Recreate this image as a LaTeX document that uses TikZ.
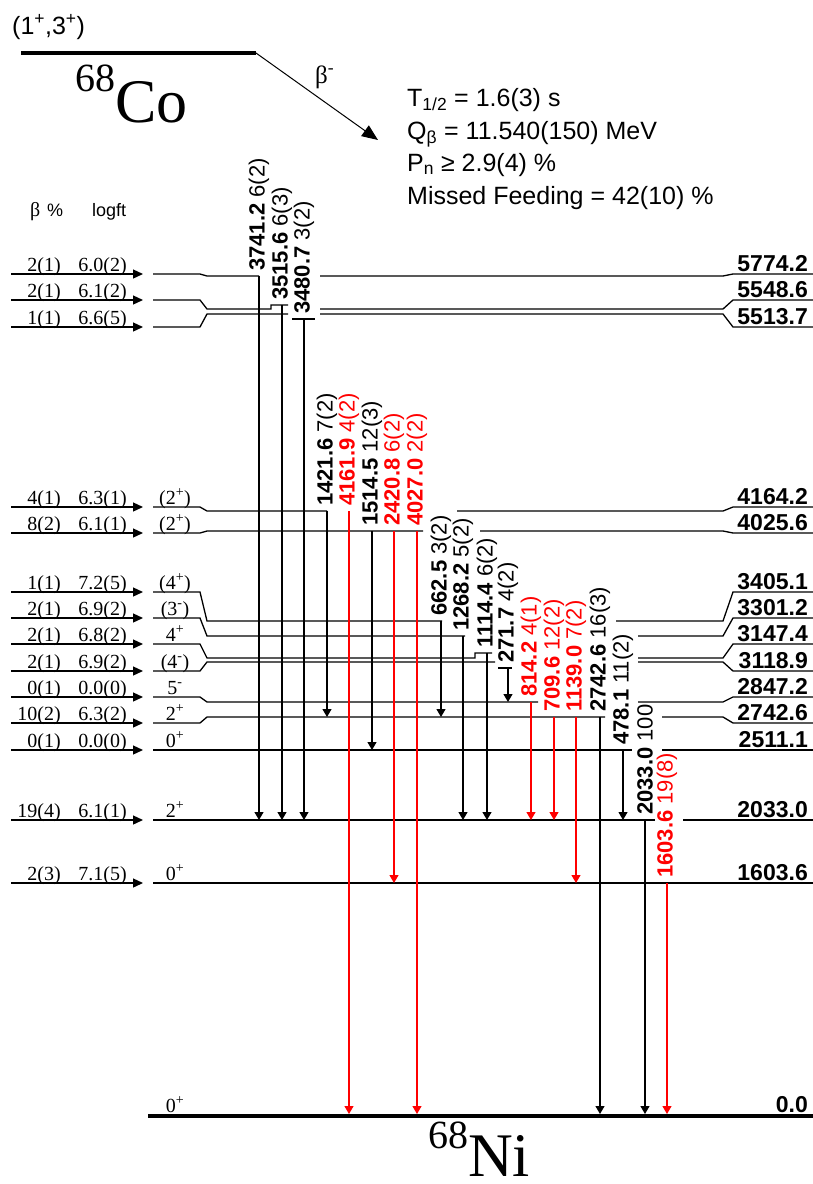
\documentclass[tikz,border=0pt]{standalone}
\usepackage{fontspec}
\setmainfont{Liberation Serif}
\setsansfont{Liberation Sans}
\usetikzlibrary{arrows.meta}
\tikzset{
 lev/.style={line width=1.3pt, line join=miter},
 gline/.style={line width=1.1pt, -{Triangle[length=8pt,width=9pt]}},
 glab/.style={rotate=90, anchor=west, inner sep=0pt, font=\sffamily\fontsize{22}{22}\selectfont},
 feedarr/.style={line width=1.3pt, -{Triangle[length=10pt,width=9pt]}},
 bpct/.style={anchor=base east, inner sep=0pt, font=\rmfamily\fontsize{20}{20}\selectfont},
 spinst/.style={anchor=base, inner sep=0pt, font=\rmfamily\fontsize{20}{20}\selectfont},
 elabst/.style={anchor=base east, inner sep=0pt, font=\sffamily\bfseries\fontsize{23}{23}\selectfont},
 info/.style={anchor=base west, inner sep=0pt, font=\sffamily\fontsize{25}{25}\selectfont},
}
\newcommand\gtrans[7]{% name, x, y start, y end, colour, energy, intensity
  \coordinate (#1s) at (#2,#3);
  \coordinate (#1e) at (#2,#4);
  \draw[gline,draw=#5] (#1s) -- (#1e);
  \node[glab,text=#5] (#1l) at ([yshift=5pt]#1s) {\textbf{#6} #7};}
\newcommand\feeding[4]{% name, y, beta pct, logft
  \coordinate (#1f0) at (11,#2);
  \coordinate (#1f1) at (143,#2);
  \draw[feedarr] (#1f0) -- (#1f1);
  \node[bpct] (#1b) at (61,{#2-3}) {#3};
  \node[bpct] (#1g) at (127,{#2-3}) {#4};}
\newcommand\spinlab[3]{\node[spinst] (#1s) at (175,{#2-3}) {#3};}
\newcommand\elabel[3]{\node[elabst] (#1E) at (808,{#2-3}) {#3};}
\begin{document}
\begin{tikzpicture}[x=1pt,y=-1pt]
\useasboundingbox (0,0) rectangle (813,1184);

% parent
\node[anchor=base west, inner sep=0pt, font=\sffamily\fontsize{25}{25}\selectfont] (cospin) at (12,34) {(1\textsuperscript{+},3\textsuperscript{+})};
\coordinate (co0) at (21,53);
\coordinate (co1) at (256,53);
\draw[line width=4pt] (co0) -- (co1);
\node[anchor=base west, inner sep=0pt] (coname) at (75,122) {\raisebox{31pt}{\fontsize{40}{40}\selectfont 68}\fontsize{62}{62}\selectfont Co};
\coordinate (bend) at (378,140);
\draw[line width=1pt, -{Triangle[length=16pt,width=13pt]}] (co1) -- (bend);
\node[anchor=base west, inner sep=0pt, font=\rmfamily\fontsize{25}{25}\selectfont] (betalab) at (315,83) {β\textsuperscript{-}};

\node[info] (t12) at (407,106) {T\textsubscript{1/2} = 1.6(3) s};
\node[info] (qb) at (407,139) {Q\textsubscript{β} = 11.540(150) MeV};
\node[info] (pn) at (407,171) {P\textsubscript{n} ≥ 2.9(4) \%};
\node[info] (mf) at (407,204) {Missed Feeding = 42(10) \%};

% header
\node[anchor=base west, inner sep=0pt, font=\rmfamily\fontsize{20}{20}\selectfont] (hb) at (30,216) {β};
\node[anchor=base west, inner sep=0pt, font=\sffamily\fontsize{18}{18}\selectfont] (hp) at (47,216) {\%};
\node[anchor=base west, inner sep=0pt, font=\sffamily\fontsize{18}{18}\selectfont] (hl) at (92,216) {logft};

% levels
\draw[lev] (153,274) -- (200,274) -- (207,276) -- (259,276) (320,276) -- (723,276) -- (733,274) -- (813,274);
\draw[lev] (153,300) -- (200,300) -- (207,309) -- (271,309) -- (271,305) -- (288,305) (320,309) -- (723,309) -- (733,300) -- (813,300);
\draw[lev] (153,327) -- (200,327) -- (207,314) -- (288,314) (320,314) -- (723,314) -- (733,327) -- (813,327);
\draw[lev] (292,319) -- (315,319);
\draw[lev] (153,507) -- (200,507) -- (207,511) -- (327,511) (457,511) -- (723,511) -- (733,507) -- (813,507);
\draw[lev] (153,533) -- (200,533) -- (207,531) -- (423,531) (480,531) -- (723,531) -- (733,533) -- (813,533);
\draw[lev] (153,592) -- (200,592) -- (207,621) -- (442,621) (616,621) -- (723,621) -- (733,592) -- (813,592);
\draw[lev] (153,618) -- (200,618) -- (207,636) -- (465,636) (638,636) -- (723,636) -- (733,618) -- (813,618);
\draw[lev] (153,644) -- (200,644) -- (207,658) -- (475,658) -- (475,653) -- (492,653) (638,658) -- (723,658) -- (733,644) -- (813,644);
\draw[lev] (153,671) -- (200,671) -- (207,662) -- (495,662) (638,662) -- (723,662) -- (733,671) -- (813,671);
\draw[lev] (498,668) -- (512,668);
\draw[lev] (153,697) -- (200,697) -- (207,702) -- (538,702) (638,702) -- (723,702) -- (733,697) -- (813,697);
\draw[lev] (153,723) -- (200,723) -- (207,717) -- (605,717) (662,717) -- (723,717) -- (733,723) -- (813,723);
\draw[lev] (153,750) -- (632,750) (662,750) -- (813,750);
\draw[lev] (153,820) -- (655,820) (683,820) -- (813,820);
\draw[lev] (153,883) -- (813,883);
\draw[line width=4pt] (148,1116) -- (813,1116);

% feeding
\feeding{a}{274}{2(1)}{6.0(2)}
\feeding{b}{300}{2(1)}{6.1(2)}
\feeding{c}{327}{1(1)}{6.6(5)}
\feeding{d}{507}{4(1)}{6.3(1)}
\feeding{e}{533}{8(2)}{6.1(1)}
\feeding{f}{592}{1(1)}{7.2(5)}
\feeding{g}{618}{2(1)}{6.9(2)}
\feeding{h}{644}{2(1)}{6.8(2)}
\feeding{i}{671}{2(1)}{6.9(2)}
\feeding{j}{697}{0(1)}{0.0(0)}
\feeding{k}{723}{10(2)}{6.3(2)}
\feeding{l}{750}{0(1)}{0.0(0)}
\feeding{m}{820}{19(4)}{6.1(1)}
\feeding{n}{883}{2(3)}{7.1(5)}

% spins
\spinlab{d}{507}{(2\textsuperscript{+})}
\spinlab{e}{533}{(2\textsuperscript{+})}
\spinlab{f}{592}{(4\textsuperscript{+})}
\spinlab{g}{618}{(3\textsuperscript{-})}
\spinlab{h}{644}{4\textsuperscript{+}}
\spinlab{i}{671}{(4\textsuperscript{-})}
\spinlab{j}{697}{5\textsuperscript{-}}
\spinlab{k}{723}{2\textsuperscript{+}}
\spinlab{l}{750}{0\textsuperscript{+}}
\spinlab{m}{820}{2\textsuperscript{+}}
\spinlab{n}{883}{0\textsuperscript{+}}
\spinlab{o}{1115}{0\textsuperscript{+}}

% energies
\elabel{a}{274}{5774.2}
\elabel{b}{300}{5548.6}
\elabel{c}{327}{5513.7}
\elabel{d}{507}{4164.2}
\elabel{e}{533}{4025.6}
\elabel{f}{592}{3405.1}
\elabel{g}{618}{3301.2}
\elabel{h}{644}{3147.4}
\elabel{i}{671}{3118.9}
\elabel{j}{697}{2847.2}
\elabel{k}{723}{2742.6}
\elabel{l}{750}{2511.1}
\elabel{m}{820}{2033.0}
\elabel{n}{883}{1603.6}
\elabel{o}{1115}{0.0}

% gammas
\gtrans{g1}{259}{276}{820}{black}{3741.2}{6(2)}
\gtrans{g2}{282}{305}{820}{black}{3515.6}{6(3)}
\gtrans{g3}{304}{319}{820}{black}{3480.7}{3(2)}
\gtrans{g4}{327}{511}{717}{black}{1421.6}{7(2)}
\gtrans{g5}{349}{511}{1114}{red}{4161.9}{4(2)}
\gtrans{g6}{372}{531}{750}{black}{1514.5}{12(3)}
\gtrans{g7}{394}{531}{883}{red}{2420.8}{6(2)}
\gtrans{g8}{417}{531}{1114}{red}{4027.0}{2(2)}
\gtrans{g9}{441}{621}{717}{black}{662.5}{3(2)}
\gtrans{g10}{463}{636}{820}{black}{1268.2}{5(2)}
\gtrans{g11}{487}{653}{820}{black}{1114.4}{6(2)}
\gtrans{g12}{508}{668}{702}{black}{271.7}{4(2)}
\gtrans{g13}{531}{702}{820}{red}{814.2}{4(1)}
\gtrans{g14}{554}{717}{820}{red}{709.6}{12(2)}
\gtrans{g15}{576}{717}{883}{red}{1139.0}{7(2)}
\gtrans{g16}{600}{717}{1114}{black}{2742.6}{16(3)}
\gtrans{g17}{623}{750}{820}{black}{478.1}{11(2)}
\gtrans{g18}{645}{820}{1114}{black}{2033.0}{100}
\gtrans{g19}{667}{883}{1114}{red}{1603.6}{19(8)}

% daughter
\node[anchor=base west, inner sep=0pt] (niname) at (428,1176) {\raisebox{28pt}{\fontsize{40}{40}\selectfont 68}\fontsize{62}{62}\selectfont Ni};
\end{tikzpicture}
\end{document}
